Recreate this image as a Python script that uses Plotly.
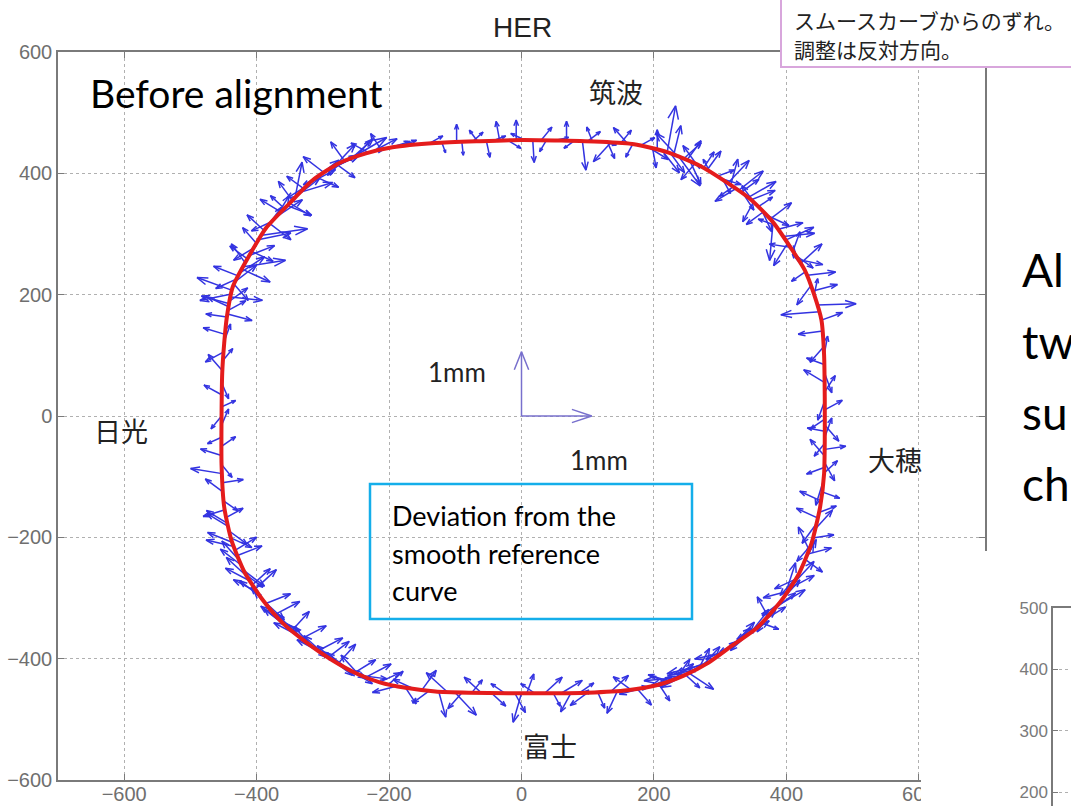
import math
import plotly.graph_objects as go
import plotly.figure_factory as ff

W, H = 1071, 806

# Smooth reference curve of the ring (plot units)
RING_X = [0, 60, 120, 170, 220, 270, 310, 345, 378, 405, 428, 442, 453, 457, 458, 458, 457, 451, 438, 418,
          392, 355, 320, 282, 245, 207, 160, 100, 40, -20, -80, -130, -175, -214, -250, -285, -325, -361, -391, -418,
          -438, -449, -453, -453, -452, -449, -445, -436, -415, -385, -350, -315, -275, -235, -195, -130, -63, 0]
RING_Y = [455, 454, 452, 448, 435, 412, 385, 358, 322, 280, 240, 200, 158, 100, 30, -40, -95, -150, -210, -262,
          -305, -350, -377, -407, -428, -443, -452, -456, -457, -457, -456, -454, -448, -439, -424, -403, -373, -341, -303, -258,
          -205, -150, -80, 0, 70, 120, 163, 213, 257, 311, 351, 389, 417, 433, 443, 450, 453, 455]

# Magnet positions along the ring (plot units), grouped by section
MAG_X = [
    # 筑波 straight
    -185, -160, -140, -120, -98, -90, -74, -66, -53, -45, -33, -20, -8, 5, 17, 30, 38, 50, 68, 80,
    92, 100, 107, 120, 135, 150, 168, 180, 198, 205, 212, 220, 230, 238, 250, 262,
    # upper right arc
    275, 285, 295, 305, 312, 320, 328, 335, 342, 350, 358, 366, 372, 380, 388, 395, 402, 410, 418, 425,
    432, 437, 442, 447, 450, 453, 455,
    # 大穂 straight
    457, 457, 457, 458, 458, 458, 458, 458, 458, 458, 458, 458, 458, 458, 457, 457, 457, 456, 455, 454, 452,
    # lower right arc
    449, 445, 440, 434, 428, 420, 414, 405, 398, 390, 382, 372, 362, 352, 342, 332, 320, 310, 298, 288,
    278, 268, 258, 248, 238, 228, 218, 208,
    # 富士 straight
    195, 185, 175, 165, 155, 145, 135, 125, 115, 100, 88, 75, 60, 48, 35, 20, 8, 0, -10, -25,
    -45, -60, -75, -90, -100, -112, -125, -138, -150, -162, -175, -188, -200,
    # lower left arc
    -215, -228, -240, -252, -262, -272, -282, -292, -302, -312, -322, -332, -342, -352, -362, -372, -382, -390, -398, -406,
    -414, -420, -426, -432, -437, -441, -444,
    # 日光 straight
    -447, -449, -450, -451, -452, -452, -453, -453, -453, -453, -453, -453, -453, -453, -453, -452, -452, -451, -450, -449,
    # upper left arc
    -445, -443, -441, -439, -437, -434, -430, -425, -420, -414, -407, -400, -392, -384, -376, -368, -358, -350, -342, -333,
    -323, -313, -303, -293, -283, -272, -262, -250, -238, -225, -212, -200,
    # arc sextupoles and correctors
    280, 290, 300, 316, 324, 332, 346, 354, 362, 376, 384, 392, 399, 406, 414, 422, 429, 440,
    447, 443, 437, 431, 424, 417, 410, 402, 394, 386, 377, 367, 357, 347, 337, 326, 315, 304,
    293, 283, 273, 263, 253, 243, 233, 223,
    -222, -234, -246, -257, -267, -277, -287, -297, -307, -317, -327, -337, -347, -357, -367, -377, -386, -394,
    -402, -410, -417, -423, -429, -434, -439, -443,
    -444, -442, -440, -438, -432, -428, -422, -417, -410, -403, -396, -388, -380, -372, -363, -354, -346, -337,
    -328, -318, -308, -298, -288, -278, -267, -256, -244, -231,
    225, 235, 245, 255, 265, 190, 160, 130,
]
MAG_Y = [
    444, 447, 449, 450, 451, 451, 452, 452, 453, 453, 454, 454, 454, 455, 455, 455, 455, 454, 454, 454,
    453, 453, 453, 452, 451, 450, 448, 446, 441, 440, 438, 435, 431, 427, 422, 416,
    409, 402, 395, 388, 384, 378, 372, 366, 360, 352, 345, 337, 330, 320, 308, 296, 285, 272, 258, 246,
    232, 215, 200, 183, 172, 158, 140,
    115, 100, 85, 70, 55, 40, 25, 10, -5, -15, -25, -35, -45, -55, -65, -75, -85, -95, -110, -125, -140,
    -159, -178, -201, -220, -236, -257, -269, -284, -295, -308, -318, -330, -341, -352, -360, -368, -377, -385, -394, -402,
    -409, -415, -421, -427, -431, -435, -439, -443,
    -446, -448, -450, -451, -452, -453, -454, -455, -455, -456, -456, -456, -457, -457, -457, -457, -457, -457, -457, -457,
    -457, -457, -456, -456, -456, -455, -454, -452, -451, -450, -448, -445, -442,
    -439, -433, -428, -423, -417, -411, -405, -398, -390, -383, -375, -367, -358, -349, -340, -327, -314, -304, -291, -278,
    -265, -254, -238, -221, -208, -190, -177,
    -168, -155, -140, -125, -110, -95, -80, -65, -50, -35, -15, 0, 15, 35, 55, 75, 90, 105, 120, 135,
    163, 174, 185, 196, 207, 217, 226, 236, 246, 259, 271, 284, 298, 312, 321, 330, 342, 351, 360, 369,
    380, 390, 397, 404, 411, 418, 422, 427, 432, 436, 439, 442,
    405, 399, 392, 381, 375, 369, 356, 348, 341, 325, 314, 302, 290, 278, 265, 252, 238, 206,
    -168, -187, -213, -228, -246, -264, -277, -289, -302, -313, -324, -336, -347, -356, -364, -373, -381, -390,
    -398, -405, -412, -418, -424, -429, -433, -437,
    -436, -430, -426, -420, -414, -408, -401, -394, -387, -379, -371, -362, -354, -345, -334, -321, -309, -298,
    -285, -272, -261, -246, -230, -215, -201, -182,
    168, 180, 190, 201, 222, 231, 242, 252, 265, 278, 291, 305, 317, 326, 336, 347, 355, 365,
    374, 385, 393, 401, 408, 414, 420, 425, 430, 434,
    433, 429, 424, 419, 414, 444, 449, 451,
]

# Deviation from the smooth curve at each magnet (mm)
DEV_X = [
    0.25, -0.15, 0.2, 0.05, 0.0, 0.02, 0.15, -0.12, 0.05, 0.2, -0.05, 0.18, 0.0, -0.2, 0.02, 0.15, -0.1, 0.2, 0.0, -0.15,
    0.05, 0.18, -0.08, 0.22, -0.25, 0.15, -0.1, 0.2, 0.05, 0.0, 0.25, 0.12, 0.1, 0.3, 0.2, -0.2,
    0.15, -0.1, 0.25, 0.1, 0.3, -0.2, 0.35, 0.15, 0.4, -0.15, 0.2, -0.25, 0.3, -0.05, 0.35, 0.45, -0.2, 0.1, 0.35, -0.15,
    0.4, -0.2, 0.05, 0.55, -0.55, 0.3, -0.35,
    -0.2, 0.05, -0.25, 0.1, -0.3, 0.15, -0.1, 0.25, -0.2, 0.2, -0.25, 0.1, -0.15, 0.3, -0.2, 0.15, -0.25, 0.2, -0.1, 0.25, -0.3,
    0.25, -0.2, 0.3, -0.15, 0.25, 0.2, -0.3, 0.35, 0.15, -0.25, 0.3, -0.15, 0.25, 0.3, -0.25, 0.2, 0.3, -0.3, 0.25, -0.35,
    -0.55, 0.15, -0.45, 0.2, -0.5, 0.3, -0.2, 0.15,
    0.3, -0.35, 0.2, -0.25, 0.35, -0.15, 0.25, -0.3, 0.1, -0.25, 0.2, -0.15, 0.3, 0.1, 0.25, -0.2, 0.1, -0.12, 0.15, -0.2,
    0.2, -0.25, 0.15, -0.2, 0.3, -0.3, 0.1, -0.25, 0.2, -0.3, 0.15, -0.35, 0.2,
    0.3, -0.3, 0.35, 0.3, -0.3, 0.35, -0.25, 0.3, -0.35, 0.3, -0.3, 0.35, -0.25, 0.3, -0.3, 0.35, -0.25, 0.3, -0.35, 0.25,
    -0.3, 0.3, -0.25, 0.3, -0.35, 0.25, -0.3,
    0.25, -0.3, 0.2, -0.25, 0.3, -0.45, 0.15, -0.3, 0.2, -0.2, 0.1, -0.15, 0.2, -0.25, 0.1, -0.2, 0.15, -0.25, 0.1, -0.3,
    -0.3, 0.25, -0.4, 0.45, -0.5, 0.2, -0.3, 0.35, 0.6, -0.25, 0.3, -0.2, 0.65, 0.2, -0.3, 0.35, -0.2, 0.3, 0.1, 0.45,
    -0.3, 0.35, -0.25, 0.45, 0.3, -0.2, 0.55, 0.2, -0.25, 0.35, -0.15, 0.3,
    0.2, -0.25, 0.3, 0.1, -0.3, 0.25, 0.35, -0.2, 0.15, 0.3, -0.25, 0.2, 0.4, -0.3, 0.25, 0.3, -0.2, 0.35,
    -0.3, 0.25, -0.2, 0.35, 0.2, -0.25, 0.3, -0.35, 0.25, 0.4, -0.2, 0.3, -0.3, 0.25, 0.35, -0.25, 0.3, -0.4,
    0.3, -0.5, 0.25, -0.4, 0.35, -0.45, 0.2, -0.3,
    -0.3, 0.35, -0.25, 0.3, -0.35, 0.25, 0.3, -0.3, 0.35, -0.25, 0.3, -0.35, 0.25, -0.3, 0.3, -0.25, 0.35, -0.3,
    0.3, -0.35, 0.25, -0.3, 0.35, -0.4, 0.3, -0.3,
    0.35, -0.3, 0.25, -0.45, 0.3, -0.35, 0.4, -0.2, 0.35, -0.3, 0.45, -0.25, 0.3, 0.2, -0.3, 0.35, -0.2, 0.3,
    -0.25, 0.35, 0.3, -0.3, 0.4, 0.25, -0.2, 0.3, 0.35, -0.25,
    0.2, -0.3, 0.25, 0.15, -0.2, 0.3, -0.2, 0.1,
]
DEV_Y = [
    0.10, 0.05, 0.12, -0.15, 0.28, -0.2, 0.15, 0.18, -0.25, 0.08, 0.3, -0.12, 0.32, 0.1, -0.35, 0.2, -0.18, 0.05, 0.3, -0.12,
    -0.45, 0.15, 0.22, -0.05, -0.3, 0.2, -0.2, 0.12, -0.3, 0.3, -0.35, 0.72, 0.45, -0.45, 0.3, -0.25,
    0.25, 0.2, 0.1, -0.2, 0.35, -0.15, 0.3, -0.25, 0.25, -0.3, 0.15, -0.2, -0.15, -0.6, 0.1, 0.05, -0.35, 0.3, -0.08, 0.2,
    0.05, -0.3, 0.25, 0.02, -0.05, 0.12, -0.05,
    -0.25, 0.3, 0.1, -0.3, 0.2, 0.25, -0.3, 0.15, -0.15, -0.25, 0.05, 0.3, -0.2, 0.05, 0.25, -0.3, -0.1, 0.2, -0.35, -0.1, 0.15,
    0.1, -0.3, 0.05, 0.35, -0.2, 0.45, -0.15, 0.2, 0.5, -0.2, 0.25, 0.3, -0.1, 0.3, -0.25, 0.15, 0.35, -0.15, 0.2, -0.2,
    -0.15, 0.3, -0.25, -0.2, -0.05, 0.25, 0.1, -0.25,
    0.15, -0.1, -0.25, 0.2, 0.05, -0.35, 0.25, 0.0, -0.25, -0.2, 0.15, -0.3, 0.2, -0.2, 0.25, 0.15, 0.3, -0.45, -0.3, 0.15,
    -0.2, 0.25, 0.2, -0.25, -0.35, 0.3, -0.4, -0.2, 0.3, 0.15, -0.25, -0.1, 0.2,
    0.15, 0.1, -0.05, 0.2, 0.25, -0.2, 0.25, 0.25, 0.2, -0.2, 0.3, 0.2, 0.3, -0.25, 0.25, 0.2, 0.3, -0.3, 0.2, 0.25,
    0.3, -0.25, 0.3, 0.2, 0.15, -0.2, 0.2,
    0.15, -0.1, -0.15, 0.2, 0.05, 0.08, -0.2, 0.1, 0.15, -0.1, 0.25, -0.2, 0.1, 0.15, -0.25, 0.25, 0.2, -0.15, 0.3, 0.1,
    0.05, 0.15, 0.12, -0.05, 0.2, -0.25, -0.15, 0.25, 0.1, 0.2, -0.15, 0.25, 0.1, 0.3, -0.15, 0.25, 0.2, -0.2, 0.55, 0.15,
    -0.2, 0.3, -0.15, 0.25, 0.35, -0.2, 0.35, 0.25, -0.1, 0.2, 0.25, 0.1,
    0.3, 0.15, -0.1, 0.4, -0.2, 0.2, 0.15, 0.3, -0.35, 0.25, 0.1, -0.3, 0.2, 0.05, -0.2, 0.3, -0.15, 0.1,
    0.15, 0.3, -0.25, 0.1, 0.4, -0.3, 0.35, -0.1, 0.3, 0.25, -0.3, 0.2, -0.2, 0.35, 0.25, -0.15, 0.3, -0.1,
    0.25, -0.2, 0.3, -0.1, -0.25, -0.15, 0.3, 0.1,
    0.15, 0.2, 0.3, -0.2, 0.25, 0.3, -0.25, 0.3, 0.2, 0.3, -0.25, 0.2, 0.3, 0.25, -0.2, 0.3, 0.15, 0.25,
    0.3, 0.2, -0.2, 0.25, 0.15, 0.1, -0.15, 0.2,
    -0.1, 0.15, 0.2, -0.1, 0.25, 0.15, -0.2, 0.3, 0.15, -0.2, 0.1, 0.25, -0.25, 0.35, 0.2, -0.15, 0.3, 0.25,
    0.2, 0.2, -0.15, 0.25, 0.2, -0.2, 0.3, 0.3, 0.1, 0.15,
    -0.3, 0.35, 0.25, -0.35, 0.3, -0.2, 0.25, -0.25,
]

MM = 106  # plot units drawn for 1 mm of deviation

# 1 mm key arrows at the ring centre
KEY_X, KEY_Y = [0, 0], [0, 0]
KEY_DX, KEY_DY = [1, 0], [0, 1]

AX_TICKS = [-600, -400, -200, 0, 200, 400, 600]
AX_TICK_TEXT = ["\u2212600", "\u2212400", "\u2212200", "0", "200", "400", "600"]
INSET_TICKS = [500, 400, 300, 200]

# straight-section names and their label positions (px)
SECTIONS = ["筑波", "大穂", "富士", "日光"]
SECTION_POS = [(616, 91), (895, 460), (550, 745), (121, 430)]


def paper(px, py):
    return px / W, 1 - py / H


fig = go.Figure()

arrows = ff.create_quiver(MAG_X, MAG_Y, DEV_X, DEV_Y, scale=MM, arrow_scale=0.3, angle=math.pi / 9,
                          line=dict(color="rgb(30,30,222)", width=1.5))
for tr in arrows.data:
    fig.add_trace(tr.update(hoverinfo="skip", opacity=0.9))

fig.add_trace(go.Scatter(x=RING_X, y=RING_Y, mode="lines", hoverinfo="skip",
                         line=dict(color="rgb(228,28,28)", width=4, shape="spline", smoothing=0.6)))

key = ff.create_quiver(KEY_X, KEY_Y, KEY_DX, KEY_DY, scale=MM, arrow_scale=0.3, angle=math.pi / 9,
                       line=dict(color="rgb(120,112,205)", width=1.5))
for tr in key.data:
    fig.add_trace(tr.update(hoverinfo="skip"))

# neighbouring panel (only its frame is in view)
fig.add_trace(go.Scatter(x=[], y=[], xaxis="x2", yaxis="y2", hoverinfo="skip"))

tick_font = dict(family="Liberation Sans, Arial, sans-serif", size=20, color="#6f6f6f")
axis_common = dict(
    tickvals=AX_TICKS, ticktext=AX_TICK_TEXT, ticks="inside", ticklen=6, tickcolor="#7a7a7a",
    showline=True, linecolor="#7a7a7a", linewidth=1.5, mirror="ticks",
    showgrid=True, gridcolor="#b0b0b0", griddash="dot", gridwidth=1, zeroline=False,
    tickfont=tick_font, fixedrange=True, automargin=False,
)

fig.update_layout(
    width=W, height=H, autosize=False, margin=dict(l=0, r=0, t=0, b=0, pad=0),
    paper_bgcolor="white", plot_bgcolor="white", showlegend=False,
    xaxis=dict(domain=[58 / W, 985 / W], range=[-700, 700], ticklabelstandoff=-5, **axis_common),
    yaxis=dict(domain=[1 - 780 / H, 1 - 52 / H], range=[-600, 600], **axis_common),
    xaxis2=dict(domain=[1053 / W, 1], anchor="y2", range=[0, 1], side="top", showline=True,
                linecolor="#7a7a7a", linewidth=1.5, showticklabels=False, ticks="", showgrid=False,
                zeroline=False, fixedrange=True, automargin=False),
    yaxis2=dict(domain=[0, 1 - 608 / H], anchor="x2", range=[178, 500], tickvals=INSET_TICKS,
                ticks="inside", ticklen=5, tickcolor="#7a7a7a", showline=True, linecolor="#7a7a7a",
                linewidth=1.5, showgrid=True, gridcolor="#b0b0b0", griddash="dot", zeroline=False,
                tickfont=dict(family="Liberation Sans, Arial, sans-serif", size=17, color="#7a7a7a"),
                fixedrange=True, automargin=False),
)

shapes = []
# panel edge covering the lower-right corner of the plot
x0, y0 = paper(921, 806)
x1, y1 = paper(1000, 551)
shapes.append(dict(type="rect", xref="paper", yref="paper", x0=x0, y0=y0, x1=x1, y1=y1,
                   fillcolor="white", line=dict(width=0), layer="above"))
# callout box, top right
x0, y0 = paper(781, 67)
shapes.append(dict(type="rect", xref="paper", yref="paper", x0=x0, y0=y0, x1=1.02, y1=1.02,
                   fillcolor="white", line=dict(color="#d8a6dc", width=2), layer="above"))
# caption box
x0, y0 = paper(370, 619)
x1, y1 = paper(692, 484)
shapes.append(dict(type="rect", xref="paper", yref="paper", x0=x0, y0=y0, x1=x1, y1=y1,
                   fillcolor="rgba(0,0,0,0)", line=dict(color="#14aeea", width=2.5), layer="above"))
fig.update_layout(shapes=shapes)

ann = []


def text(px, py, s, size, family, color="#111", xanchor="center"):
    x, y = paper(px, py)
    ann.append(dict(x=x, y=y, xref="paper", yref="paper", text=s, showarrow=False,
                    xanchor=xanchor, yanchor="middle", font=dict(size=size, family=family, color=color)))


sans = "Lato, Open Sans, sans-serif"
cjk = "Noto Sans CJK JP, sans-serif"
text(522, 28, "HER", 28, "Liberation Sans, Arial, sans-serif", "#222")
text(88, 93, "Before alignment", 39, sans, "#000", "left")
for name, (px, py) in zip(SECTIONS, SECTION_POS):
    text(px, py, name, 27, cjk, "#222")
text(457, 372, "1mm", 26, sans, "#222")
text(599, 460, "1mm", 26, sans, "#222")
text(390, 515, "Deviation from the", 27, sans, "#000", "left")
text(390, 553, "smooth reference", 27, sans, "#000", "left")
text(390, 590, "curve", 27, sans, "#000", "left")
text(792, 20, "スムースカーブからのずれ。", 21, cjk, "#222", "left")
text(792, 49, "調整は反対方向。", 21, cjk, "#222", "left")
for i, s in enumerate(["Al", "tw", "su", "ch"]):
    text(1020, 270 + i * 71, s, 46, sans, "#000", "left")
fig.update_layout(annotations=ann)

fig.write_html("out.html", config={"displayModeBar": False})
